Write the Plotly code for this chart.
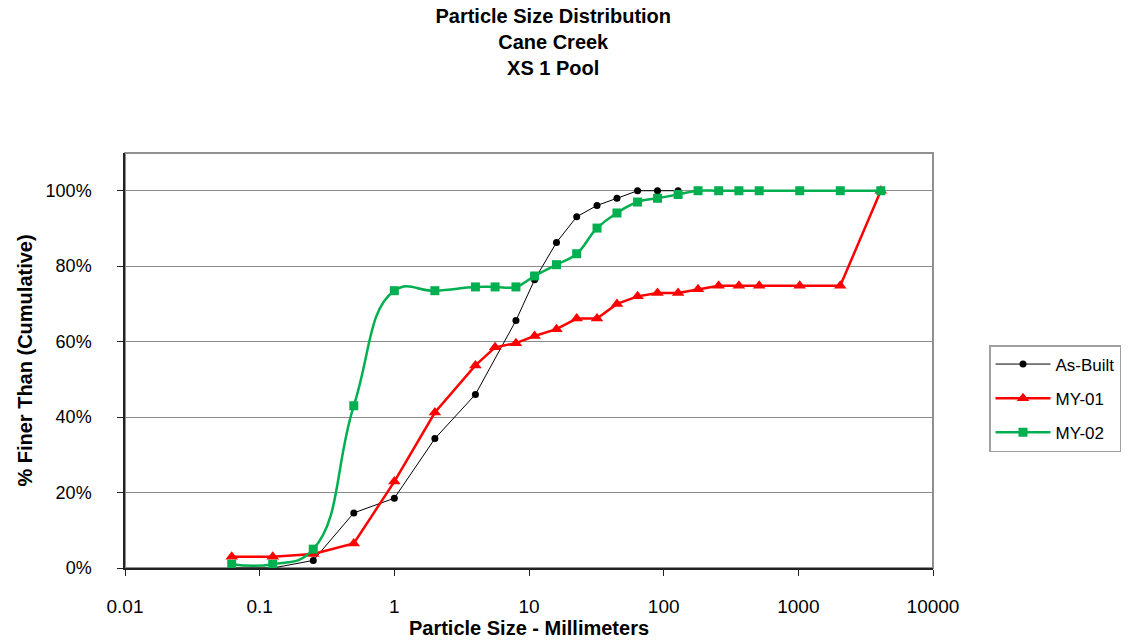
import plotly.graph_objects as go

# sieve sizes (mm) and cumulative percent finer
built_size = [0.062, 0.125, 0.25, 0.5, 1, 2, 4, 8, 11, 16, 22.6, 32, 45, 64, 90, 128]
built_pct = [0, 0, 2, 14.6, 18.5, 34.3, 46, 65.6, 76.4, 86.3, 93.1, 96.1, 98, 100, 100, 100]

my01_size = [0.062, 0.125, 0.25, 0.5, 1, 2, 4, 5.6, 8, 11, 16, 22.6, 32, 45, 64, 90,
             128, 180, 256, 362, 512, 1024, 2048, 4096]
my01_pct = [3, 3, 3.7, 6.5, 22.9, 41.2, 53.7, 58.5, 59.6, 61.5, 63.3, 66.1, 66.1, 70, 72,
            72.9, 72.9, 73.9, 74.8, 74.8, 74.8, 74.8, 74.8, 100]

my02_size = [0.062, 0.125, 0.25, 0.5, 1, 2, 4, 5.6, 8, 11, 16, 22.6, 32, 45, 64, 90,
             128, 180, 256, 362, 512, 1024, 2048, 4096]
my02_pct = [1, 1, 5, 43, 73.5, 73.5, 74.5, 74.5, 74.5, 77.4, 80.4, 83.3, 90.1, 94.1, 97,
            98, 99, 100, 100, 100, 100, 100, 100, 100]

x_ticks = [0.01, 0.1, 1, 10, 100, 1000, 10000]
x_labels = ["0.01", "0.1", "1", "10", "100", "1000", "10000"]
y_ticks = [0, 20, 40, 60, 80, 100]
y_labels = ["0%", "20%", "40%", "60%", "80%", "100%"]

FONT = "Arial, Liberation Sans, sans-serif"

fig = go.Figure()
fig.add_trace(go.Scatter(x=built_size, y=built_pct, mode="lines+markers", name="As-Built",
                         legendgroup="a",
                         line=dict(color="black", width=1),
                         marker=dict(symbol="circle", size=7, color="black")))
fig.add_trace(go.Scatter(x=my01_size, y=my01_pct, mode="lines+markers", name="MY-01",
                         legendgroup="b",
                         line=dict(color="#ff0000", width=2.5),
                         marker=dict(symbol="triangle-up", size=11, color="#ff0000")))
fig.add_trace(go.Scatter(x=my02_size, y=my02_pct, mode="lines+markers", name="MY-02",
                         legendgroup="c",
                         line=dict(color="#00b050", width=2.5, shape="spline", smoothing=1.3),
                         marker=dict(symbol="square", size=9, color="#00b050")))

# gray plot-area frame (Excel style), axes drawn black on top
fig.add_shape(type="rect", xref="paper", yref="paper", x0=0, y0=0, x1=1, y1=1,
              line=dict(color="#909090", width=2), layer="below")

fig.update_layout(
    width=1136, height=642,
    margin=dict(l=124.5, r=202.5, t=153, b=74, autoexpand=False),
    paper_bgcolor="white", plot_bgcolor="white",
    font=dict(family=FONT, color="black", size=18),
    title=dict(text="<b>Particle Size Distribution<br>Cane Creek<br>XS 1 Pool</b>",
               x=0.487, xref="container", xanchor="center",
               y=1 - 23 / 642, yref="container", yanchor="middle",
               font=dict(family=FONT, size=20, color="black")),
    legend=dict(x=989 / 1136, xref="container", xanchor="left",
                y=1 - 345 / 642, yref="container", yanchor="top",
                bordercolor="#a0a0a0", borderwidth=1.5, bgcolor="white",
                font=dict(family=FONT, size=17), itemwidth=55, tracegroupgap=9),
    showlegend=True,
)
fig.update_xaxes(type="log", range=[-2, 4], tickvals=x_ticks, ticktext=x_labels,
                 automargin=False,
                 showgrid=False, zeroline=False, showline=True, linecolor="#222",
                 linewidth=1.5, ticks="outside", ticklen=6, tickcolor="#222",
                 tickfont=dict(size=19), ticklabelstandoff=14,
                 title=dict(text="<b>Particle Size - Millimeters</b>", standoff=4,
                            font=dict(size=20)))
fig.update_yaxes(range=[0, 110], tickvals=y_ticks, ticktext=y_labels,
                 automargin=False,
                 showgrid=True, gridcolor="#8a8a8a", gridwidth=1, zeroline=False,
                 showline=True, linecolor="#222", linewidth=1.5, ticks="outside",
                 ticklen=6, tickcolor="#222", tickfont=dict(size=18),
                 ticklabelstandoff=22,
                 title=dict(text="<b>% Finer Than (Cumulative)</b>", standoff=8,
                            font=dict(size=20)))

# the page body has a default 8px margin; drop it so the figure fills the window
fig.write_html("out.html", config={"displayModeBar": False},
               post_script="document.body.style.margin='0';")
